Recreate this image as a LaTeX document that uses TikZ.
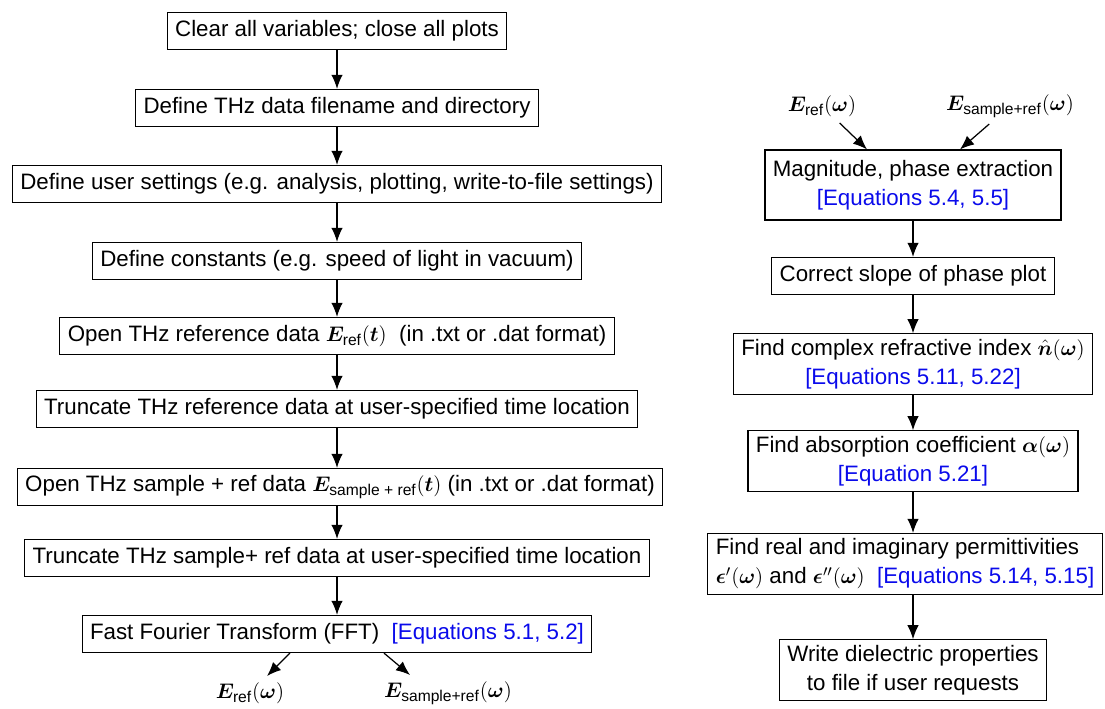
\documentclass[tikz,border=0pt]{standalone}
\usepackage{fontspec}
\setmainfont{Liberation Sans}
\usepackage{amsmath,bm}
\usepackage{xcolor}
\usetikzlibrary{arrows.meta,calc,positioning}

\definecolor{eqblue}{RGB}{10,10,235}
\newcommand{\eqn}[1]{\textcolor{eqblue}{[#1]}}
\newcommand{\Eref}{\bm{E}_{\text{ref}}}
\newcommand{\Esam}{\bm{E}_{\text{sample+ref}}}

\begin{document}
\begin{tikzpicture}[x=0.02cm,y=-0.02cm,->,>={Latex[length=8pt,width=6.5pt]},
          line width=0.7pt,font=\fontsize{12.7pt}{16.5pt}\selectfont]
  \tikzstyle{blk}=[draw,rectangle,align=center,inner xsep=4.5pt,inner ysep=3pt,
          minimum height=0.74cm]
  \useasboundingbox (0,0) rectangle (1105,709);

  % left column: preprocessing
  \node[blk] (clr)  at (337,31)  {Clear all variables; close all plots};
  \node[blk] (dir)  at (337,108) {Define THz data filename and directory};
  \node[blk] (usr)  at (337,184) {Define user settings (e.g. analysis, plotting, write-to-file settings)};
  \node[blk] (cst)  at (337,261) {Define constants (e.g. speed of light in vacuum)};
  \node[blk] (oref) at (337,336) {Open THz reference data $\Eref(\bm{t})$\ \ (in .txt or .dat format)};
  \node[blk] (tref) at (337,409) {Truncate THz reference data at user-specified time location};
  \node[blk] (osam) at (340,487) {Open THz sample + ref data $\bm{E}_{\text{sample + ref}}(\bm{t})$ (in .txt or .dat format)};
  \node[blk] (tsam) at (337,558) {Truncate THz sample+ ref data at user-specified time location};
  \node[blk] (fft)  at (337,634) {Fast Fourier Transform (FFT)\ \ \eqn{Equations 5.1, 5.2}};
  \node (wrefL) at (250,693) {$\Eref(\bm{\omega})$};
  \node (wsamL) at (448,693) {$\Esam(\bm{\omega})$};

  % right column: material parameters
  \node (wrefR) at (822,106) {$\Eref(\bm{\omega})$};
  \node (wsamR) at (1010,106) {$\Esam(\bm{\omega})$};
  \node[blk, minimum height=1.4cm] (mag) at (913,185) {Magnitude, phase extraction\\ \eqn{Equations 5.4, 5.5}};
  \node[blk] (slp)  at (913,276) {Correct slope of phase plot};
  \node[blk] (nhat) at (913,364) {Find complex refractive index\ $\bm{\hat{n}}(\bm{\omega})$\\ \eqn{Equations 5.11, 5.22}};
  \node[blk] (absc) at (913,461) {Find absorption coefficient $\bm{\alpha}(\bm{\omega})$\\ \eqn{Equation 5.21}};
  \node[blk, align=left] (perm) at (905,564) {Find real and imaginary permittivities\\
        $\bm{\epsilon}'(\bm{\omega})$ and $\bm{\epsilon}''(\bm{\omega})$\ \ \eqn{Equations 5.14, 5.15}};
  \node[blk] (wrt)  at (913,670) {Write dielectric properties\\ to file if user requests};

  \coordinate (fftL) at ($(fft.south)+(-47,0)$);
  \coordinate (fftR) at ($(fft.south)+(47,0)$);
  \coordinate (wsamIn) at ($(wsamL.north)+(-38,0)$);
  \coordinate (magL) at ($(mag.north)+(-46,0)$);
  \coordinate (magR) at ($(mag.north)+(47,0)$);

  \path (clr) edge (dir)
        (dir) edge (usr)
        (usr) edge (cst)
        (cst) edge (oref)
        (oref) edge (tref)
        (tref) edge (osam.north -| tref)
        (osam.south -| tsam) edge (tsam)
        (tsam) edge (fft)
        (fftL) edge (wrefL)
        (fftR) edge (wsamIn);
  \path (wrefR) edge (magL)
        (wsamR) edge (magR)
        (mag) edge (slp)
        (slp) edge (nhat)
        (nhat) edge (absc)
        (absc) edge (perm.north -| absc)
        (perm.south -| wrt) edge (wrt);
\end{tikzpicture}
\end{document}
